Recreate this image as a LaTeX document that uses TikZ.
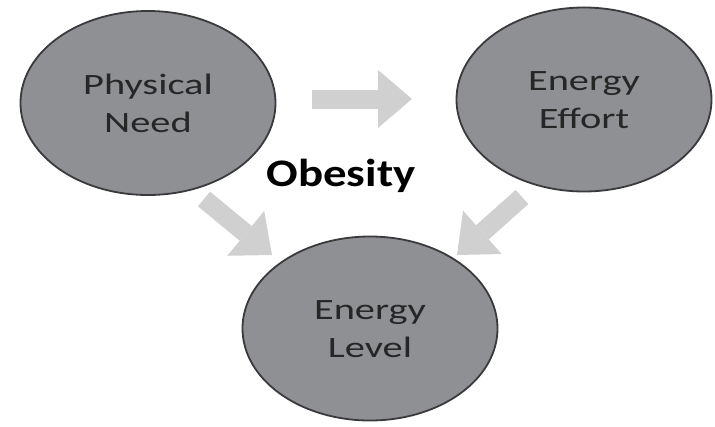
\documentclass[tikz,border=0pt]{standalone}
\usepackage{fontspec}
\setmainfont{Carlito}
\usepackage{graphicx}
\usetikzlibrary{shapes.geometric,arrows.meta}
\definecolor{ellfill}{RGB}{142,144,147}
\definecolor{ellline}{RGB}{58,58,60}
\definecolor{arrgray}{RGB}{208,208,208}
\definecolor{txtdark}{RGB}{38,38,38}
\newcommand\stxt[1]{\raisebox{-2.5pt}[\height][\depth]{\scalebox{1.37}[1]{\begin{tabular}{@{}c@{}}#1\end{tabular}}}}
\begin{document}
\begin{tikzpicture}[x=1pt,y=-1pt,
  ell/.style={ellipse, draw=ellline, fill=ellfill, line width=1.8pt,
    minimum width=255pt, minimum height=184pt, inner sep=0pt,
    text=txtdark, font=\fontsize{29.5}{38}\selectfont},
  blockarrow/.style={draw=arrgray, line width=19pt,
    -{Triangle[length=34pt 0 0, width=58pt 0 0, line width=0pt 0]}},
  titletext/.style={font=\fontsize{39}{42}\selectfont\bfseries, text=black, inner sep=0pt}
]
\fill[white] (0,0) rectangle (715,426);
\useasboundingbox (0,0) rectangle (715,426);

\node[ell] (pn) at (148,103) {\stxt{Physical\\Need}};
\node[ell] (ee) at (584,99.5) {\stxt{Energy\\Effort}};
\node[ell] (el) at (370,328.5) {\stxt{Energy\\Level}};

\node[titletext] (ob) at (341,175.5) {\scalebox{1.2}[1]{Obesity}};

\coordinate (a1s) at (312,99);
\coordinate (a1e) at (412,99);
\coordinate (a2s) at (204,199);
\coordinate (a2e) at (272,255);
\coordinate (a3s) at (522,197);
\coordinate (a3e) at (457,255);

\draw[blockarrow] (a1s) -- (a1e);
\draw[blockarrow] (a2s) -- (a2e);
\draw[blockarrow] (a3s) -- (a3e);
\end{tikzpicture}
\end{document}
